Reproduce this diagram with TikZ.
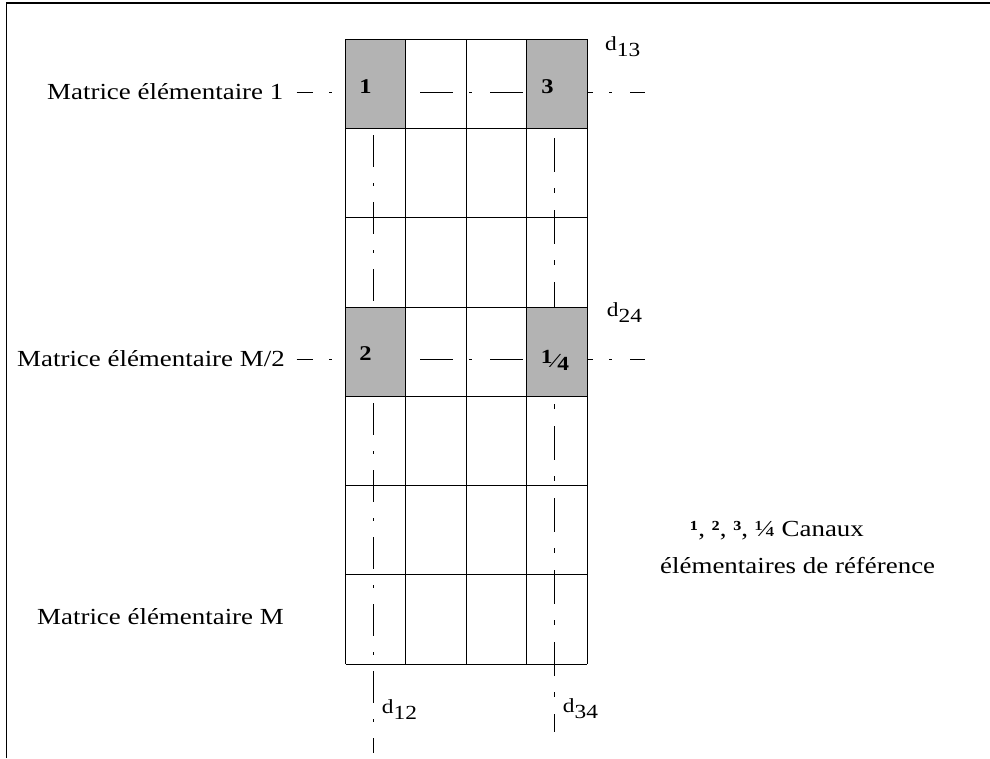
\documentclass[tikz,border=0pt]{standalone}
\usepackage{fontspec}
\setmainfont{Liberation Serif}[FakeStretch=1.17]
\definecolor{cellgray}{RGB}{179,179,179}
\begin{document}
\begin{tikzpicture}[x=1pt,y=-1pt,
  frameline/.style={line width=1.3pt},
  gridline/.style={line width=1pt},
  axisH/.style={line width=1pt, dash pattern=on 33pt off 16pt on 3pt off 18pt, dash phase=16.7pt},
  axisVL/.style={line width=1pt, dash pattern=on 32pt off 16pt on 3pt off 16pt},
  axisVR/.style={line width=1pt, dash pattern=on 34pt off 16pt on 5pt off 17pt},
  lbl/.style={font=\fontsize{23}{27}\selectfont, inner sep=0pt, anchor=base west},
  cellnum/.style={font=\fontsize{21}{24}\selectfont\bfseries, inner sep=0pt, anchor=base},
  dlbl/.style={font=\fontsize{20}{22}\selectfont, inner sep=0pt, anchor=base west}]
\useasboundingbox (0,0) rectangle (990,758);
% frame (top and left only)
\coordinate (fbl) at (6.5,758);
\coordinate (ftl) at (6.5,3);
\coordinate (ftr) at (990,3);
\draw[frameline] (fbl) -- (ftl) -- (ftr);
% axes (drawn first, hidden by grey cells)
\coordinate (h1a) at (296.7,92.3);  \coordinate (h1b) at (645,92.3);
\coordinate (h2a) at (296.7,359.3); \coordinate (h2b) at (645,359.3);
\coordinate (vla) at (373.3,135);   \coordinate (vlb) at (373.3,753);
\coordinate (vra) at (554,138);     \coordinate (vrb) at (554,732);
\draw[axisH] (h1a) -- (h1b);
\draw[axisH] (h2a) -- (h2b);
\draw[axisVL] (vla) -- (vlb);
\draw[axisVR] (vra) -- (vrb);
% grey reference cells
\fill[cellgray] (345.5,39.3) rectangle (405.5,128.55);
\fill[cellgray] (526.5,39.3) rectangle (587,128.55);
\fill[cellgray] (345.5,307.05) rectangle (405.5,396.3);
\fill[cellgray] (526.5,307.05) rectangle (587,396.3);
% grid
\foreach \yy in {39.3,128.55,217.8,307.05,396.3,485.55,574.8,664.05}
  \draw[gridline] (345.5,\yy) -- (587,\yy);
\foreach \xx in {345.5,405.5,466,526.5,587}
  \draw[gridline] (\xx,39.3) -- (\xx,664.05);
% cell numbers
\node[cellnum] (c1) at (365.5,93.3) {1};
\node[cellnum] (c3) at (547.5,93.3) {3};
\node[cellnum] (c2) at (365.5,360) {2};
\node[cellnum, font=\fontsize{20}{22}\selectfont\bfseries] (c4) at (555,367)
  {\raisebox{4pt}{1}\kern0.5pt⁄\kern0.5pt\raisebox{-3pt}{4}};
% left labels
\node[lbl] (m1) at (47,99.5) {Matrice élémentaire 1};
\node[lbl] (m2) at (17,366.5) {Matrice élémentaire M/2};
\node[lbl] (m3) at (37,624.5) {Matrice élémentaire M};
% distance labels
\node[dlbl] (d13) at (605,50.7) {d\raisebox{-6pt}{13}};
\node[dlbl] (d24) at (606.7,316.7) {d\raisebox{-6pt}{24}};
\node[dlbl] (d12) at (381.7,713) {d\raisebox{-6pt}{12}};
\node[dlbl] (d34) at (562.7,712) {d\raisebox{-6pt}{34}};
% legend
\node[lbl] (leg1) at (690,536) {\textbf{¹}, \textbf{²}, \textbf{³}, ¼ Canaux};
\node[lbl] (leg2) at (660,573.3) {élémentaires de référence};
\end{tikzpicture}
\end{document}
